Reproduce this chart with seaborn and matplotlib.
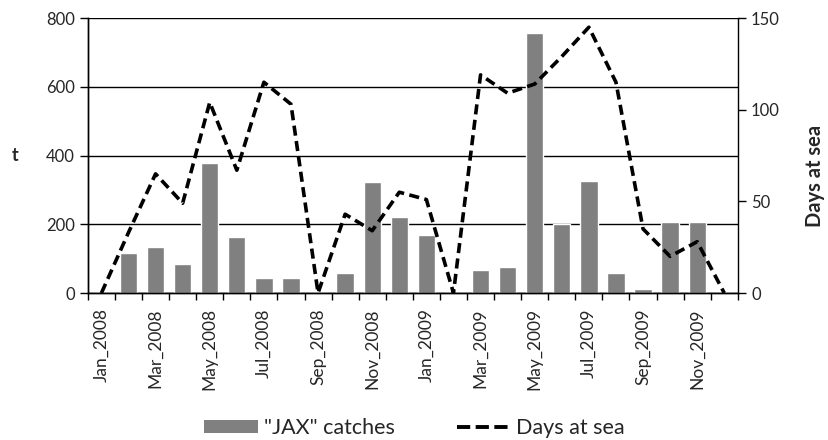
import matplotlib
matplotlib.use("Agg")
import matplotlib.pyplot as plt
import seaborn as sns
import pandas as pd
import numpy as np
from matplotlib.lines import Line2D
from matplotlib.patches import Patch
from matplotlib.ticker import FixedLocator

months = ["Jan_2008", "Feb_2008", "Mar_2008", "Apr_2008", "May_2008", "Jun_2008",
          "Jul_2008", "Aug_2008", "Sep_2008", "Oct_2008", "Nov_2008", "Dec_2008",
          "Jan_2009", "Feb_2009", "Mar_2009", "Apr_2009", "May_2009", "Jun_2009",
          "Jul_2009", "Aug_2009", "Sep_2009", "Oct_2009", "Nov_2009", "Dec_2009"]
catches = [0, 116, 135, 85, 377, 163, 44, 44, 0, 57, 323, 222,
           168, 0, 66, 76, 757, 201, 327, 57, 12, 208, 208, 0]
days_at_sea = [0, 33, 65, 49, 104, 67, 115, 103, 0, 43, 34, 55,
               51, 0, 119, 109, 114, 129, 145, 115, 35, 20, 28, 0]

sns.set_style("white")
plt.rcParams["font.family"] = ["Lato", "DejaVu Sans"]

df = pd.DataFrame({"month": months, "catches": catches,
                   "days": days_at_sea, "pos": np.arange(len(months))})

fig = plt.figure(figsize=(8.29, 4.40), dpi=100)
ax = fig.add_axes([0.106, 0.334, 0.784, 0.625])

sns.barplot(data=df, x="month", y="catches", order=months, color="#808080",
            saturation=1, width=0.64, ax=ax, zorder=2)
ax.set_ylim(0, 800)
ax.set_xlim(-0.5, len(months) - 0.5)
ax.set_yticks([0, 200, 400, 600, 800])
ax.yaxis.grid(True, color="black", linewidth=1)
ax.set_axisbelow(True)

# labels on every other month, tick marks on the month boundaries
ax.xaxis.set_major_locator(FixedLocator(df["pos"][::2].tolist()))
ax.set_xticklabels(months[::2], rotation=90, fontsize=12.5, va="top")
ax.xaxis.set_minor_locator(FixedLocator(np.arange(-0.5, len(months), 1.0)))
ax.tick_params(axis="x", which="major", length=0, pad=11)
ax.tick_params(axis="x", which="minor", length=5, width=1, color="black", direction="out", bottom=True)
ax.tick_params(axis="y", length=6, width=1, color="black", direction="out", left=True, labelsize=12)
ax.set_xlabel("")
ax.set_ylabel("t", rotation=0, fontsize=13, fontweight="bold", labelpad=22, va="center")

ax2 = ax.twinx()
sns.lineplot(data=df, x="pos", y="days", color="black", linewidth=2.6,
             linestyle=(0, (2.8, 1.5)), ax=ax2, zorder=3)
ax2.set_ylim(0, 150)
ax2.set_yticks([0, 50, 100, 150])
ax2.tick_params(axis="y", length=6, width=1, color="black", direction="out", right=True, labelsize=12)
ax2.set_ylabel("Days at sea", fontsize=14.5, fontweight="bold")
ax2.yaxis.set_label_coords(1.103, 0.425)
ax2.set_xlim(-0.5, len(months) - 0.5)

for a in (ax, ax2):
    a.spines["top"].set_visible(False)
    for s in ("left", "right", "bottom"):
        a.spines[s].set_color("black")
        a.spines[s].set_linewidth(1)
ax.spines["right"].set_visible(False)

handles = [Patch(facecolor="#808080", edgecolor="none"),
           Line2D([0], [0], color="black", linewidth=2.8, linestyle=(0, (3.4, 1.4)))]
fig.legend(handles, ['"JAX" catches', "Days at sea"], loc="center",
           bbox_to_anchor=(0.5, 0.027), ncol=2, frameon=False, fontsize=15.5,
           handlelength=2.5, handleheight=0.55, columnspacing=2.9, handletextpad=0.25,
           borderpad=0)

fig.savefig("out.png", dpi=100)
